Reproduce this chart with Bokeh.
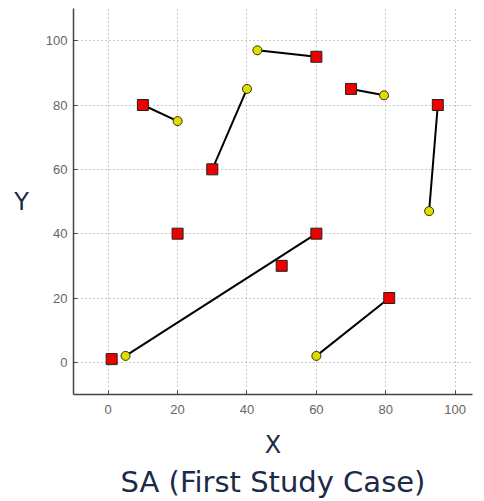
from bokeh.plotting import figure
from bokeh.models import Range1d, Title, FixedTicker
from bokeh.embed import file_html
from bokeh.resources import INLINE

# Data
red_x = [1, 20, 50, 60, 81, 10, 30, 60, 70, 95]
red_y = [1, 40, 30, 40, 20, 80, 60, 95, 85, 80]
yellow_x = [5, 60, 20, 40, 43, 79.5, 92.5]
yellow_y = [2, 2, 75, 85, 97, 83, 47]
# links: yellow index -> red index
links = [(0, 3), (1, 4), (2, 5), (3, 6), (4, 7), (5, 8), (6, 9)]
x_ticks = [0, 20, 40, 60, 80, 100]
y_ticks = [0, 20, 40, 60, 80, 100]

seg_xs = [[yellow_x[a], red_x[b]] for a, b in links]
seg_ys = [[yellow_y[a], red_y[b]] for a, b in links]

p = figure(width=480, height=501, output_backend="svg", toolbar_location=None,
           x_range=Range1d(-10, 105), y_range=Range1d(-10, 110),
           min_border_left=73, min_border_right=8, min_border_top=8,
           min_border_bottom=107)
p.outline_line_color = None
p.background_fill_color = "white"
p.border_fill_color = "white"

p.xaxis.ticker = FixedTicker(ticks=x_ticks)
p.yaxis.ticker = FixedTicker(ticks=y_ticks)
for ax in (p.xaxis, p.yaxis):
    ax.major_tick_in = 4
    ax.major_tick_out = 0
    ax.minor_tick_in = 0
    ax.minor_tick_out = 0
    ax.axis_line_color = "#444444"
    ax.axis_line_width = 1.5
    ax.major_tick_line_color = "#444444"
    ax.major_label_text_font = "Liberation Sans"
    ax.major_label_text_font_size = "13px"
    ax.major_label_text_color = "#666666"
p.xaxis.major_label_standoff = 10
p.yaxis.major_label_standoff = 6

for g in (p.xgrid, p.ygrid):
    g.grid_line_color = "#999999"
    g.grid_line_dash = "1 3"
    g.grid_line_width = 1

p.xaxis.axis_label = "X"
p.xaxis.axis_label_text_font = "DejaVu Sans"
p.xaxis.axis_label_text_font_size = "24px"
p.xaxis.axis_label_text_font_style = "normal"
p.xaxis.axis_label_text_color = "#1c2a48"
p.xaxis.axis_label_standoff = 14

p.yaxis.axis_label = "Y"
p.yaxis.axis_label_text_font = "DejaVu Sans"
p.yaxis.axis_label_text_font_size = "24px"
p.yaxis.axis_label_text_font_style = "normal"
p.yaxis.axis_label_text_color = "#1c2a48"
p.yaxis.axis_label_standoff = 14
try:
    p.yaxis[0].axis_label_orientation = "horizontal"
except Exception:
    pass

t = Title(text="SA (First Study Case)", align="center", text_font="DejaVu Sans",
          text_font_size="29px", text_font_style="normal", text_color="#1c2a48",
          standoff=3)
p.add_layout(t, "below")

p.multi_line(seg_xs, seg_ys, line_color="black", line_width=2)
p.scatter(red_x, red_y, marker="square", size=11, fill_color="#ee0000",
          line_color="#222222", line_width=1)
p.scatter(yellow_x, yellow_y, marker="circle", size=9, fill_color="#e0dc00",
          line_color="#333300", line_width=1)

open("out.html", "w").write(file_html(p, INLINE))
